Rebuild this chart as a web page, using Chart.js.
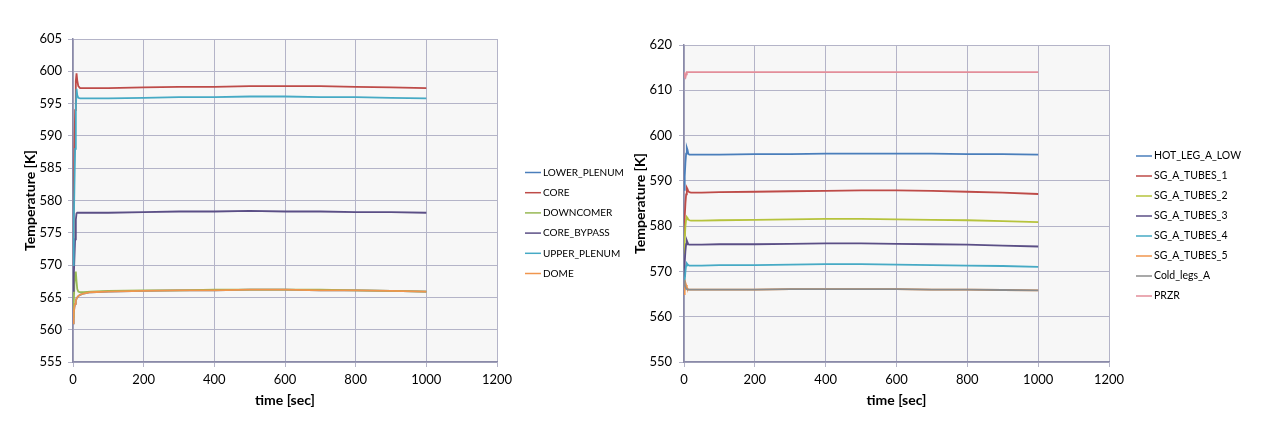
<!DOCTYPE html>
<html>
<head>
<meta charset="utf-8">
<script src="https://cdn.jsdelivr.net/npm/chart.js@4.4.1/dist/chart.umd.min.js"></script>
<style>
  html, body { margin: 0; padding: 0; background: #ffffff; }
  body { width: 1266px; height: 435px; position: relative; overflow: hidden; }
  .box { position: absolute; top: 0; height: 435px; width: 633px; }
</style>
</head>
<body>
<div class="box" style="left:0"><canvas id="leftChart" width="633" height="435"></canvas></div>
<div class="box" style="left:633px"><canvas id="rightChart" width="633" height="435"></canvas></div>
<script>
// time points [sec] shared by all series
const times = [0, 2, 4, 6, 8, 10, 12, 15, 20, 30, 50, 100, 200, 300, 400, 500, 600, 700, 800, 900, 1000];

// left chart: vessel regions
const leftLabels = ["LOWER_PLENUM", "CORE", "DOWNCOMER", "CORE_BYPASS", "UPPER_PLENUM", "DOME"];
const lowerPlenum = [561, 562.5, 563.5, 564, 564.5, 564.8, 565, 565.2, 565.4, 565.6, 565.8, 565.9, 566.0, 566.1, 566.1, 566.2, 566.2, 566.1, 566.1, 566.0, 565.9];
const core = [574, 581, 588, 594, 598.5, 599.7, 598.6, 597.7, 597.4, 597.4, 597.4, 597.4, 597.5, 597.6, 597.6, 597.7, 597.7, 597.7, 597.6, 597.5, 597.4];
const downcomer = [562, 564, 567, 568.8, 569, 567.5, 566.3, 565.9, 565.8, 565.8, 565.9, 566.0, 566.1, 566.1, 566.2, 566.2, 566.2, 566.2, 566.1, 566.0, 565.9];
const coreBypass = [566, 568, 571, 574, 577, 578, 578.1, 578.1, 578.1, 578.1, 578.1, 578.1, 578.2, 578.3, 578.3, 578.4, 578.3, 578.3, 578.2, 578.2, 578.1];
const upperPlenum = [570, 576, 582, 588, 594, 597.3, 596.3, 595.9, 595.8, 595.8, 595.8, 595.8, 595.9, 596.0, 596.0, 596.1, 596.1, 596.0, 596.0, 595.9, 595.8];
const dome = [561, 562.5, 563.5, 564, 564.5, 564.8, 565, 565.2, 565.4, 565.6, 565.8, 565.9, 566.0, 566.1, 566.1, 566.2, 566.2, 566.1, 566.1, 566.0, 565.9];
const leftColors = ["#4A7EBB", "#BE4B48", "#98B954", "#5B4F86", "#46AAC5", "#F0964E"];
const leftTicks = { min: 555, max: 605, step: 5 };

// right chart: loop A
const rightLabels = ["HOT_LEG_A_LOW", "SG_A_TUBES_1", "SG_A_TUBES_2", "SG_A_TUBES_3", "SG_A_TUBES_4", "SG_A_TUBES_5", "Cold_legs_A", "PRZR"];
const hotLeg = [588, 591, 594, 596, 597.3, 596.8, 596, 595.8, 595.8, 595.8, 595.8, 595.8, 595.9, 595.9, 596.0, 596.0, 596.0, 596.0, 595.9, 595.9, 595.8];
const sgTubes1 = [578, 582, 585, 587, 588.5, 588.2, 587.7, 587.5, 587.4, 587.4, 587.4, 587.5, 587.6, 587.7, 587.8, 587.9, 587.9, 587.8, 587.6, 587.4, 587.1];
const sgTubes2 = [574, 577, 580, 581.5, 582, 581.8, 581.5, 581.3, 581.2, 581.2, 581.2, 581.3, 581.4, 581.5, 581.6, 581.6, 581.5, 581.4, 581.3, 581.1, 580.9];
const sgTubes3 = [569, 572, 574.5, 576, 576.8, 576.4, 576, 575.9, 575.9, 575.9, 575.9, 576.0, 576.0, 576.1, 576.2, 576.2, 576.1, 576.0, 575.9, 575.7, 575.5];
const sgTubes4 = [566, 568, 570, 571.3, 571.8, 571.6, 571.4, 571.3, 571.3, 571.3, 571.3, 571.4, 571.4, 571.5, 571.6, 571.6, 571.5, 571.4, 571.3, 571.2, 571.0];
const sgTubes5 = [565, 566.5, 567.5, 567, 566.5, 566.2, 566, 566, 566, 566, 566, 566, 566, 566.1, 566.1, 566.1, 566.1, 566.0, 566.0, 565.9, 565.8];
const coldLegs = [568, 567, 566.5, 566.2, 566.1, 566, 566, 566, 566, 566, 566, 566, 566, 566.1, 566.1, 566.1, 566.1, 566.0, 566.0, 565.9, 565.8];
const przr = [614, 613, 612.8, 613.5, 614, 614, 614, 614, 614, 614, 614, 614, 614, 614, 614, 614, 614, 614, 614, 614, 614];
const rightColors = ["#4A7EBB", "#BE4B48", "#B6C33C", "#5B4F86", "#46AAC5", "#F0964E", "#8C8C8C", "#E38E9A"];
const rightTicks = { min: 550, max: 620, step: 10 };

const xTicks = { min: 0, max: 1200, step: 200 };

const FONT = "Lato, 'Open Sans', sans-serif";
const GRID = "#B4B4C8";
const AXIS = "#8A8AA8";

// grey plot background
const plotBg = {
  id: "plotBg",
  beforeDraw(chart) {
    const { ctx, chartArea: a } = chart;
    ctx.save();
    ctx.fillStyle = "#F7F7F7";
    ctx.fillRect(a.left, a.top, a.right - a.left, a.bottom - a.top);
    ctx.restore();
  }
};

// excel style legend on the right side
const sideLegend = {
  id: "sideLegend",
  afterDraw(chart, args, opts) {
    const ctx = chart.ctx;
    ctx.save();
    ctx.font = opts.size + "px " + FONT;
    ctx.textBaseline = "middle";
    ctx.textAlign = "left";
    chart.data.datasets.forEach((ds, i) => {
      const y = opts.y + i * opts.step;
      ctx.strokeStyle = ds.borderColor;
      ctx.lineWidth = 1.5;
      ctx.beginPath();
      ctx.moveTo(opts.x, y);
      ctx.lineTo(opts.x + 16, y);
      ctx.stroke();
      ctx.fillStyle = "#000000";
      ctx.fillText(ds.label, opts.x + 18, y);
    });
    ctx.restore();
  }
};

function makeSets(labels, series, colors) {
  return labels.map((lab, i) => ({
    label: lab,
    data: times.map((t, k) => ({ x: t, y: series[i][k] })),
    borderColor: colors[i],
    backgroundColor: colors[i],
    borderWidth: 1.8,
    pointRadius: 0,
    tension: 0,
    order: -i   // later series on top, like excel
  }));
}

function makeChart(id, sets, yT, pad, yWidth, yTickPad, legendPos) {
  return new Chart(document.getElementById(id), {
    type: "line",
    data: { datasets: sets },
    options: {
      responsive: false,
      animation: false,
      layout: { padding: pad },
      plugins: {
        legend: { display: false },
        tooltip: { enabled: false },
        sideLegend: legendPos
      },
      scales: {
        x: {
          type: "linear",
          min: xTicks.min,
          max: xTicks.max,
          afterFit: (s) => { s.height = 47; },
          ticks: { stepSize: xTicks.step, padding: 5, color: "#000", font: { family: FONT, size: 13 }, callback: (v) => String(v) },
          grid: { color: GRID, lineWidth: 1, tickLength: 5 },
          border: { color: AXIS, width: 1.5 },
          title: { display: true, text: "time [sec]", padding: 0, color: "#000", font: { family: FONT, size: 14, weight: "bold" } }
        },
        y: {
          min: yT.min,
          max: yT.max,
          afterFit: (s) => { s.width = yWidth; },
          ticks: { stepSize: yT.step, padding: yTickPad, color: "#000", font: { family: FONT, size: 13 }, callback: (v) => String(v) },
          grid: { color: GRID, lineWidth: 1, tickLength: 5 },
          border: { color: AXIS, width: 1.5 },
          title: { display: true, text: "Temperature [K]", padding: 0, color: "#000", font: { family: FONT, size: 14, weight: "bold", lineHeight: 1 } }
        }
      }
    },
    plugins: [plotBg, sideLegend]
  });
}

makeChart("leftChart",
  makeSets(leftLabels, [lowerPlenum, core, downcomer, coreBypass, upperPlenum, dome], leftColors),
  leftTicks, { left: 23, top: 39, right: 136, bottom: 26 }, 50, 6, { x: 525, y: 172.5, step: 20.2, size: 10 });

makeChart("rightChart",
  makeSets(rightLabels, [hotLeg, sgTubes1, sgTubes2, sgTubes3, sgTubes4, sgTubes5, coldLegs, przr], rightColors),
  rightTicks, { left: 0, top: 45, right: 157, bottom: 26 }, 51, 7, { x: 503, y: 156, step: 20, size: 10.5 });
</script>
</body>
</html>
